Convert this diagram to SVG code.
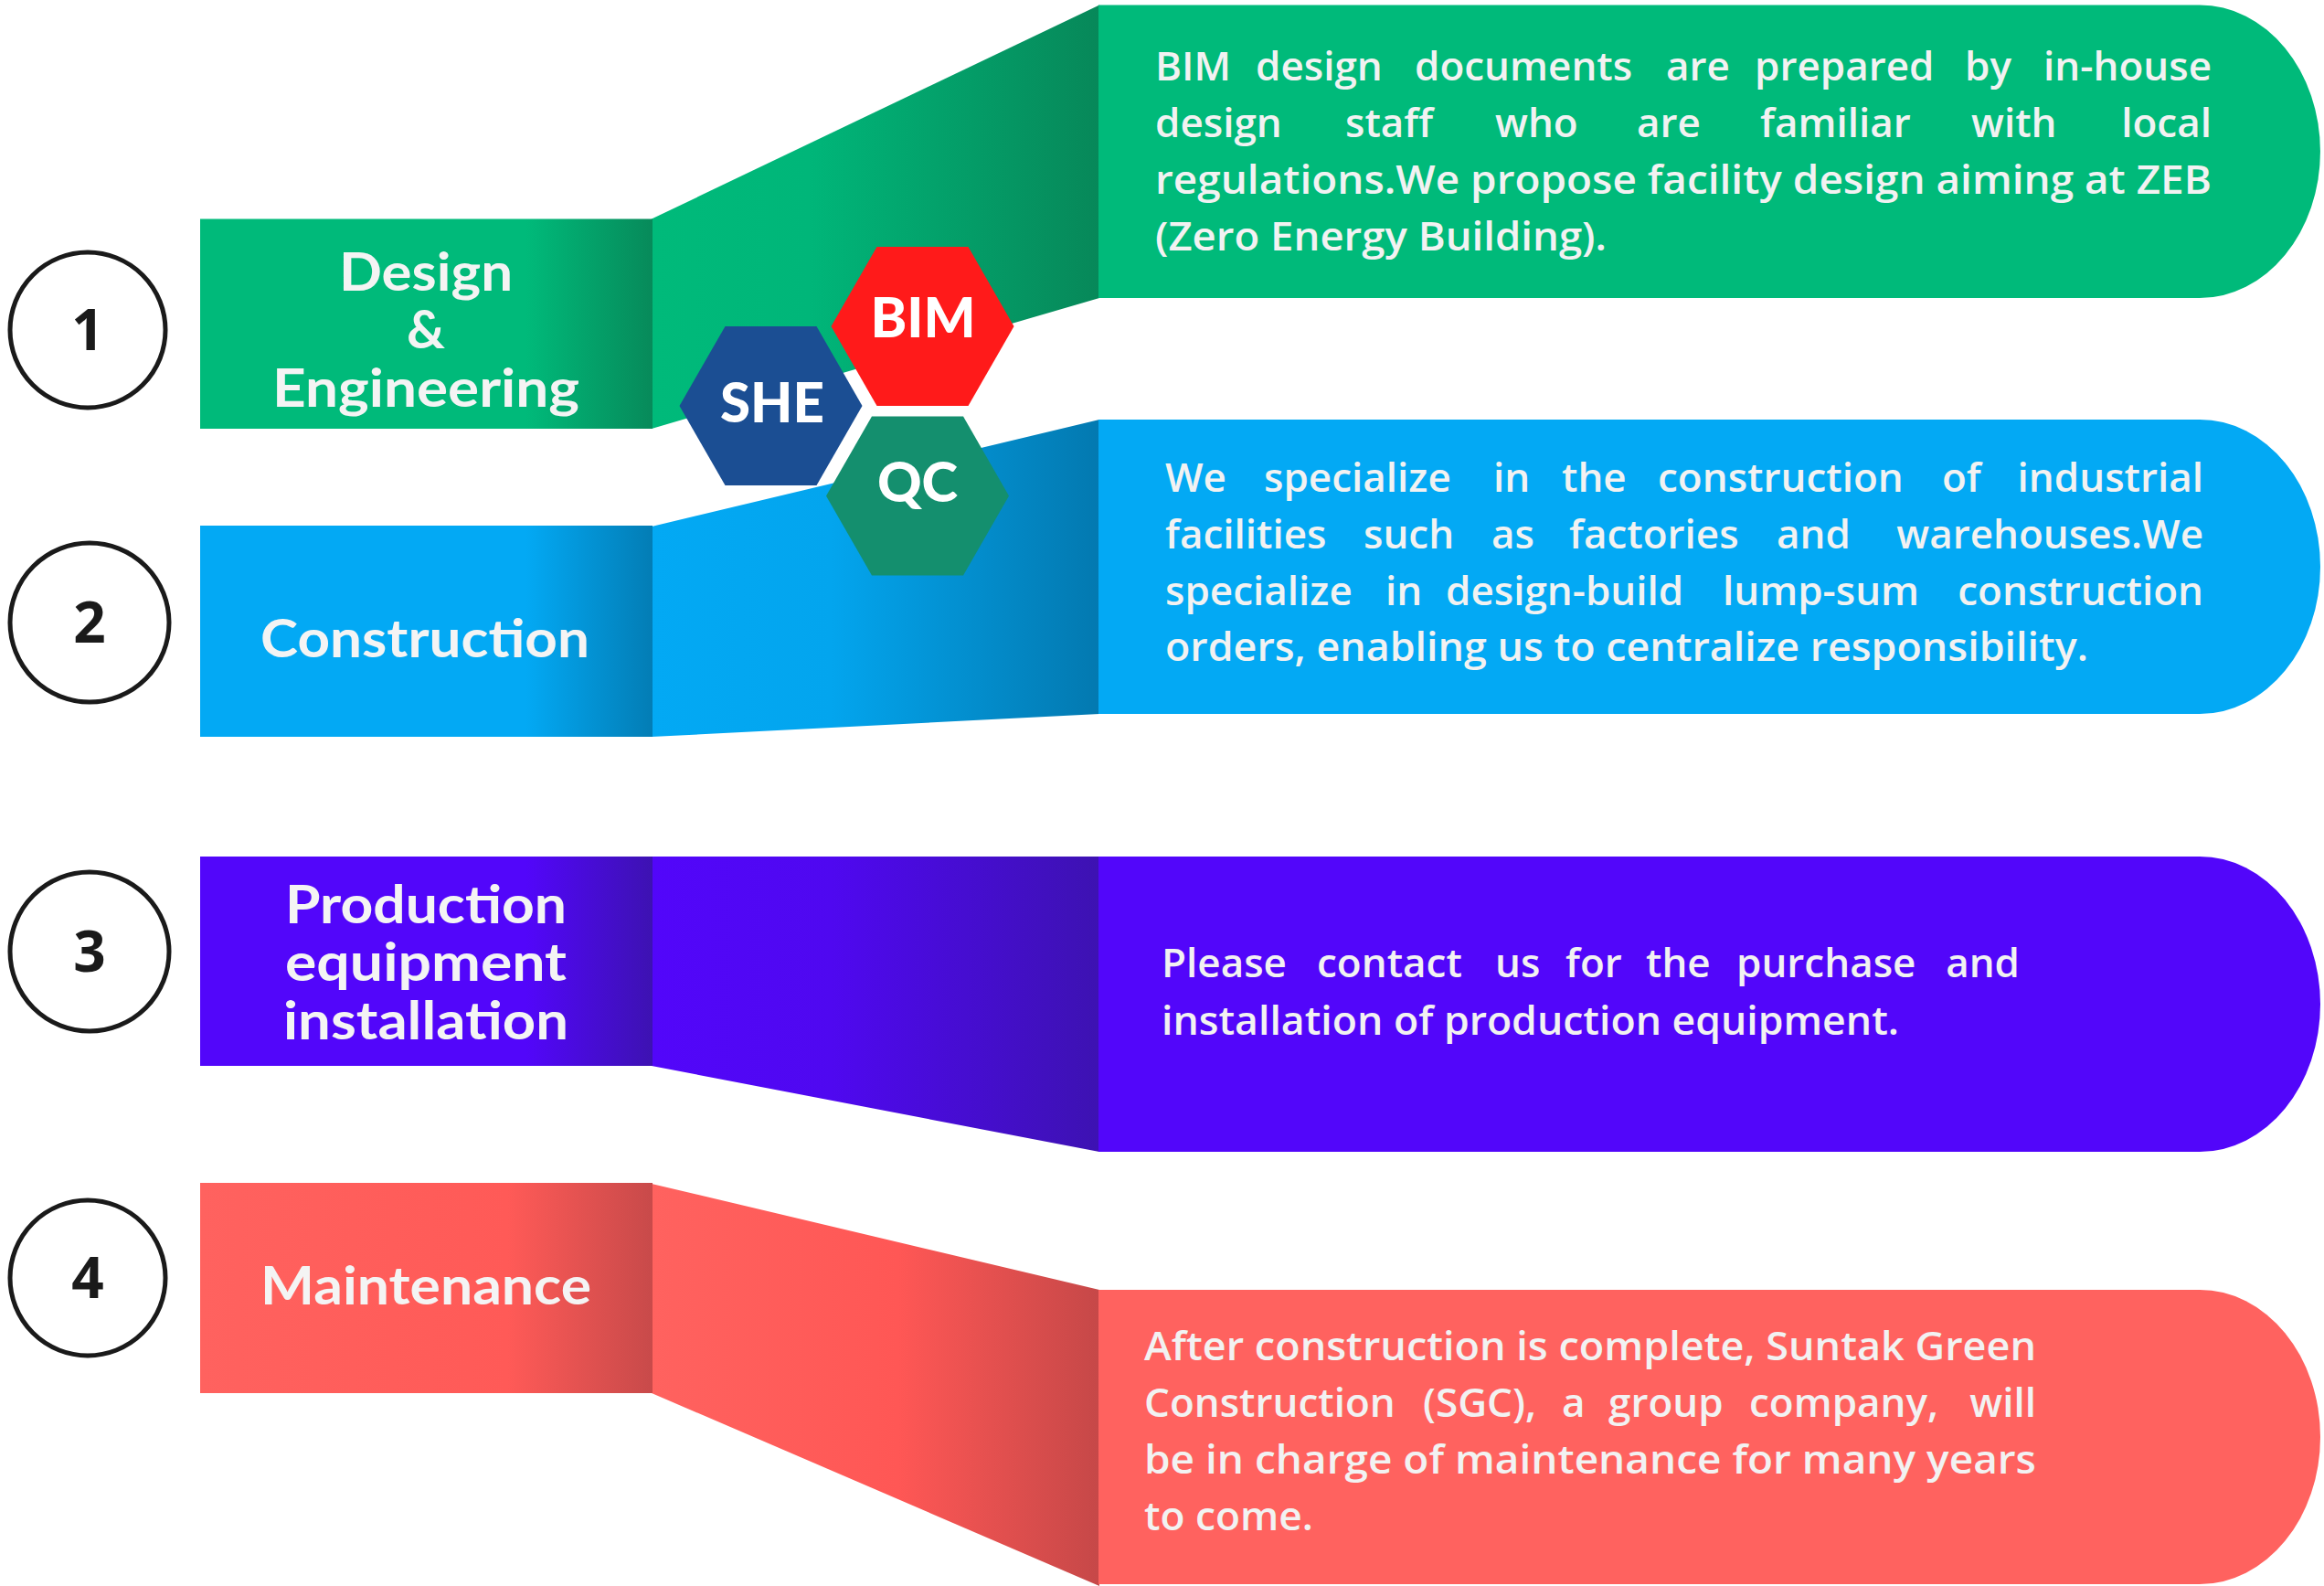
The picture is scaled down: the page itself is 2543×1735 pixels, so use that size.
<svg xmlns="http://www.w3.org/2000/svg" width="2543" height="1735" viewBox="0 0 2543 1735">
<defs>
<style>
.title{font-family:Lato,"Open Sans","Liberation Sans",sans-serif;font-weight:700;font-size:58px;fill:#F4F4F4;text-anchor:middle}
.para{font-family:"Open Sans",Lato,"Liberation Sans",sans-serif;font-weight:600;font-size:44px;fill:#F2F2F2}
.end{text-anchor:end}
.hex{font-family:Lato,"Open Sans","Liberation Sans",sans-serif;font-weight:900;font-size:60px;fill:#FFFFFF;text-anchor:middle}
.num{font-family:"Open Sans","Liberation Sans",sans-serif;font-weight:700;font-size:62px;fill:#1A1A1A;text-anchor:middle}
.ring{fill:none;stroke:#1A1A1A;stroke-width:5}
</style>
<linearGradient id="gL1" gradientUnits="userSpaceOnUse" x1="219" y1="0" x2="714" y2="0">
<stop offset="0" stop-color="#00BA7A"/><stop offset="0.72" stop-color="#00BA7A"/><stop offset="1" stop-color="#078A5A"/></linearGradient>
<linearGradient id="gM1" gradientUnits="userSpaceOnUse" x1="713" y1="0" x2="1203" y2="0">
<stop offset="0" stop-color="#00BA7A"/><stop offset="0.35" stop-color="#00B679"/><stop offset="1" stop-color="#078859"/></linearGradient>
<linearGradient id="gL2" gradientUnits="userSpaceOnUse" x1="219" y1="0" x2="714" y2="0">
<stop offset="0" stop-color="#03A9F4"/><stop offset="0.72" stop-color="#03A9F4"/><stop offset="1" stop-color="#037DB5"/></linearGradient>
<linearGradient id="gM2" gradientUnits="userSpaceOnUse" x1="713" y1="0" x2="1203" y2="0">
<stop offset="0" stop-color="#03A9F4"/><stop offset="0.4" stop-color="#03A5EE"/><stop offset="1" stop-color="#0379B0"/></linearGradient>
<linearGradient id="gL3" gradientUnits="userSpaceOnUse" x1="219" y1="0" x2="714" y2="0">
<stop offset="0" stop-color="#5206FA"/><stop offset="0.72" stop-color="#5206FA"/><stop offset="1" stop-color="#3D12B2"/></linearGradient>
<linearGradient id="gM3" gradientUnits="userSpaceOnUse" x1="713" y1="0" x2="1203" y2="0">
<stop offset="0" stop-color="#5206FA"/><stop offset="0.4" stop-color="#4F08F0"/><stop offset="1" stop-color="#3D12B2"/></linearGradient>
<linearGradient id="gL4" gradientUnits="userSpaceOnUse" x1="219" y1="0" x2="714" y2="0">
<stop offset="0" stop-color="#FF625F"/><stop offset="0.68" stop-color="#FF5A57"/><stop offset="1" stop-color="#C84A4A"/></linearGradient>
<linearGradient id="gM4" gradientUnits="userSpaceOnUse" x1="713" y1="0" x2="1203" y2="0">
<stop offset="0" stop-color="#FF625F"/><stop offset="0.55" stop-color="#FF5755"/><stop offset="1" stop-color="#C64848"/></linearGradient>
</defs>
<rect x="0" y="0" width="2543" height="1735" fill="#FFFFFF"/>

<g id="connectors">
<path d="M713,239.5 L1203,5.5 L1203,326 L713,469 Z" fill="url(#gM1)"/>
<path d="M713,576 L1203,459 L1203,781 L713,806 Z" fill="url(#gM2)"/>
<path d="M713,937 L1203,937 L1203,1260 L713,1166 Z" fill="url(#gM3)"/>
<path d="M713,1295 L1203,1411 L1203,1735 L713,1524 Z" fill="url(#gM4)"/>
</g>

<g id="step1">
<circle class="ring" cx="96" cy="361" r="85"/>
<text class="num" x="96" y="383">1</text>
<rect x="219" y="239.5" width="495" height="229.5" fill="url(#gL1)"/>
<text class="title" x="466" y="318" textLength="190" lengthAdjust="spacingAndGlyphs">Design</text>
<text class="title" x="466" y="381">&amp;</text>
<text class="title" x="466" y="445" textLength="336" lengthAdjust="spacingAndGlyphs">Engineering</text>
<path d="M1202,5.5 H2407 A132,160.25 0 0 1 2407,326 H1202 Z" fill="#00BA7A"/>
<text class="para" y="88"><tspan x="1264">BIM</tspan><tspan x="1374">design</tspan><tspan x="1548">documents</tspan><tspan x="1823">are</tspan><tspan x="1920">prepared</tspan><tspan x="2150">by</tspan><tspan class="end" x="2420">in-house</tspan></text>
<text class="para" y="150"><tspan x="1264">design</tspan><tspan x="1472">staff</tspan><tspan x="1636">who</tspan><tspan x="1791">are</tspan><tspan x="1926">familiar</tspan><tspan x="2157">with</tspan><tspan class="end" x="2420">local</tspan></text>
<text class="para" x="1264" y="212" textLength="1156" lengthAdjust="spacingAndGlyphs">regulations.We propose facility design aiming at ZEB</text>
<text class="para" x="1264" y="274" textLength="494" lengthAdjust="spacingAndGlyphs">(Zero Energy Building).</text>
</g>

<g id="step2">
<circle class="ring" cx="98" cy="681" r="87"/>
<text class="num" x="98" y="703">2</text>
<rect x="219" y="575" width="495" height="231" fill="url(#gL2)"/>
<text class="title" x="465" y="719" textLength="360" lengthAdjust="spacingAndGlyphs">Construction</text>
<path d="M1202,459 H2407 A132,161 0 0 1 2407,781 H1202 Z" fill="#03A9F4"/>
<text class="para" y="538"><tspan x="1275">We</tspan><tspan x="1383">specialize</tspan><tspan x="1634">in</tspan><tspan x="1709">the</tspan><tspan x="1814">construction</tspan><tspan x="2125">of</tspan><tspan class="end" x="2411">industrial</tspan></text>
<text class="para" y="600"><tspan x="1275">facilities</tspan><tspan x="1492">such</tspan><tspan x="1632">as</tspan><tspan x="1717">factories</tspan><tspan x="1944">and</tspan><tspan class="end" x="2411">warehouses.We</tspan></text>
<text class="para" y="662"><tspan x="1275">specialize</tspan><tspan x="1516">in</tspan><tspan x="1582">design-build</tspan><tspan x="1885">lump-sum</tspan><tspan class="end" x="2411">construction</tspan></text>
<text class="para" x="1275" y="723" textLength="1010" lengthAdjust="spacingAndGlyphs">orders, enabling us to centralize responsibility.</text>
</g>

<g id="step3">
<circle class="ring" cx="98" cy="1041" r="87"/>
<text class="num" x="98" y="1063">3</text>
<rect x="219" y="937" width="495" height="229" fill="url(#gL3)"/>
<text class="title" x="466" y="1010" textLength="308" lengthAdjust="spacingAndGlyphs">Production</text>
<text class="title" x="466" y="1073" textLength="308" lengthAdjust="spacingAndGlyphs">equipment</text>
<text class="title" x="466" y="1137" textLength="312" lengthAdjust="spacingAndGlyphs">installation</text>
<path d="M1202,937 H2407 A132,161.5 0 0 1 2407,1260 H1202 Z" fill="#5206FA"/>
<text class="para" y="1069"><tspan x="1271">Please</tspan><tspan x="1441">contact</tspan><tspan x="1636">us</tspan><tspan x="1713">for</tspan><tspan x="1801">the</tspan><tspan x="1900">purchase</tspan><tspan class="end" x="2210">and</tspan></text>
<text class="para" x="1271" y="1132" textLength="807" lengthAdjust="spacingAndGlyphs">installation of production equipment.</text>
</g>

<g id="step4">
<circle class="ring" cx="96" cy="1398" r="85"/>
<text class="num" x="96" y="1420">4</text>
<rect x="219" y="1294" width="495" height="230" fill="url(#gL4)"/>
<text class="title" x="466" y="1427" textLength="362" lengthAdjust="spacingAndGlyphs">Maintenance</text>
<path d="M1202,1411 H2407 A132,161 0 0 1 2407,1733 H1202 Z" fill="#FF625F"/>
<text class="para" x="1252" y="1488" textLength="976" lengthAdjust="spacingAndGlyphs">After construction is complete, Suntak Green</text>
<text class="para" y="1550"><tspan x="1252">Construction</tspan><tspan x="1557">(SGC),</tspan><tspan x="1709">a</tspan><tspan x="1760">group</tspan><tspan x="1914">company,</tspan><tspan class="end" x="2228">will</tspan></text>
<text class="para" x="1252" y="1612" textLength="976" lengthAdjust="spacingAndGlyphs">be in charge of maintenance for many years</text>
<text class="para" x="1252" y="1674" textLength="185" lengthAdjust="spacingAndGlyphs">to come.</text>
</g>

<g id="hex-bim">
<polygon points="909.5,357 959.5,270 1059.5,270 1109.5,357 1059.5,444 959.5,444" fill="#FF1A1A"/>
<text class="hex" x="1010" y="369">BIM</text>
</g>
<g id="hex-she">
<polygon points="743.5,444 793.5,357 893.5,357 943.5,444 893.5,531 793.5,531" fill="#1B4E93"/>
<text class="hex" x="845" y="462">SHE</text>
</g>
<g id="hex-qc">
<polygon points="904,542.5 954,455.5 1054,455.5 1104,542.5 1054,629.5 954,629.5" fill="#148F6E"/>
<text class="hex" x="1004" y="549">QC</text>
</g>
</svg>
